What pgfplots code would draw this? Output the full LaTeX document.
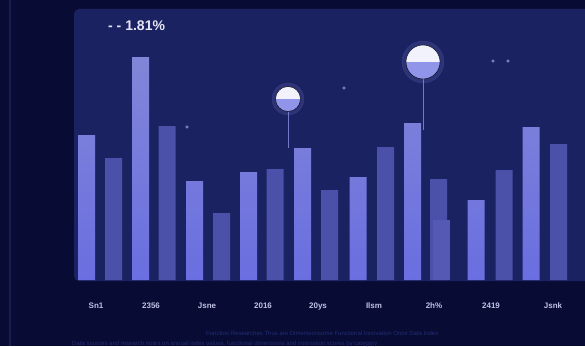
\documentclass[border=0pt]{standalone}
\usepackage{pgfplots}
\pgfplotsset{compat=1.18}
\usepackage{fontspec}
\setmainfont{Liberation Sans}
\definecolor{outerbg}{HTML}{080C34}
\definecolor{panel}{HTML}{1B2262}
\definecolor{lightbar}{HTML}{8286D8}
\definecolor{lightbarB}{HTML}{6A6EE0}
\definecolor{darkbar}{HTML}{4B50A9}
\definecolor{ghostbar}{HTML}{5559B4}
\definecolor{ticktext}{HTML}{BFC2E4}
\definecolor{stem}{HTML}{7478C8}
\definecolor{moonlow}{HTML}{9195EA}
\definecolor{moonhigh}{HTML}{F2F2FC}
\definecolor{faint}{HTML}{222C72}
\definecolor{sideline}{HTML}{181D52}
\definecolor{dotc}{HTML}{7E84C8}
\definecolor{titletext}{HTML}{E6E7F5}
\begin{document}
\begin{tikzpicture}
\useasboundingbox (0,0) rectangle (585pt,346pt);
\clip (0,0) rectangle (585pt,346pt);
\fill[outerbg] (0,0) rectangle (585pt,346pt);
\draw[sideline, line width=1.5pt] (10pt,0) -- (10pt,346pt);
\node[anchor=west, text=faint, font=\fontsize{6}{7}\selectfont, inner sep=0] at (206pt,13pt)
  {Function Researches Thus are Dimensionsome Functional Innovation Once Data Index};
\node[anchor=west, text=faint, font=\fontsize{6}{7}\selectfont, inner sep=0] at (72pt,2pt)
  {Data sources and research notes on annual index values, functional dimensions and innovation scores by category};
\begin{axis}[
  at={(74pt,65pt)}, anchor=south west,
  x=1pt, y=1pt,
  xmin=74, xmax=600, ymin=-1, ymax=271,
  axis line style={draw=none},
  axis background/.style={fill=panel, rounded corners=5pt},
  ytick=\empty,
  xtick={96,151,207,263,318,374,434,491,553},
  xticklabels={Sn1,2356,Jsne,2016,20ys,Ilsm,2h\%,2419,Jsnk},
  major tick length=0pt,
  xticklabel style={font=\bfseries\fontsize{8}{9}\selectfont, text=ticktext, anchor=base, yshift=-27pt},
]
% stems
\addplot[stem, line width=1pt] coordinates {(288,132) (288,181)};
\addplot[stem, line width=1pt] coordinates {(423,150) (423,218)};
% bars
\addplot[ybar, bar width=17, bar shift=0pt, draw=none, top color=lightbar, bottom color=lightbarB]
  coordinates {(86.5,145) (140.5,223) (194.5,99) (248.5,108) (302.5,132) (358,103) (412.5,157) (476,80) (531,153)};
\addplot[ybar, bar width=17, bar shift=0pt, draw=none, fill=darkbar]
  coordinates {(113.5,122) (167,154) (221.5,67) (275,111) (329.5,90) (385.5,133) (438.5,101) (504,110) (558.5,136)};
\addplot[ybar, bar width=17, bar shift=0pt, draw=none, fill=ghostbar]
  coordinates {(441.5,60)};
% small dots
\addplot[only marks, mark=*, mark size=1.3, color=dotc] coordinates {(187,153) (344,192) (493,219) (508,219)};
% moons
\addplot[only marks, mark=*, mark size=16, color=moonlow, opacity=0.15] coordinates {(288,181)};
\addplot[only marks, mark=halfcircle*, mark size=12.5, draw=none, fill=moonhigh, mark options={mark color=moonlow, draw=none}] coordinates {(288,181)};
\addplot[only marks, mark=*, mark size=21, color=moonlow, opacity=0.15] coordinates {(423,218)};
\addplot[only marks, mark=halfcircle*, mark size=17, draw=none, fill=moonhigh, mark options={mark color=moonlow, draw=none}] coordinates {(423,218)};
\node[anchor=west, text=titletext, font=\bfseries\fontsize{14}{15}\selectfont, inner sep=0] at (axis cs:108,254) {- - 1.81\%};
\end{axis}
\end{tikzpicture}
\end{document}
